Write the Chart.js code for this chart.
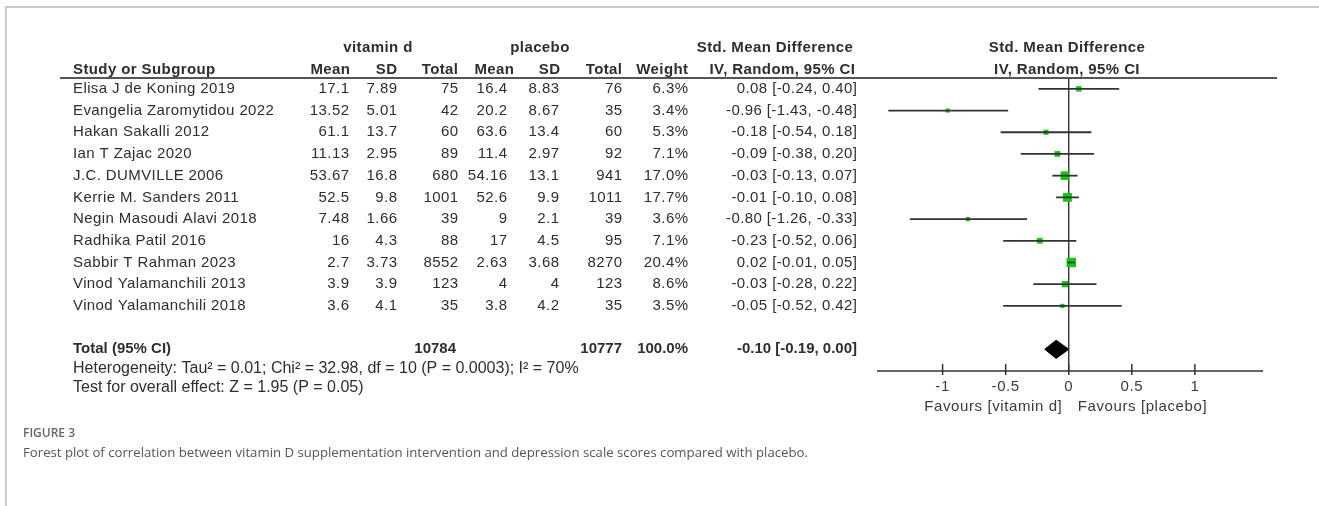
<!DOCTYPE html>
<html>
<head>
<meta charset="utf-8">
<script src="https://cdn.jsdelivr.net/npm/chart.js@4"></script>
<style>
    html, body { margin: 0; padding: 0; background: #fff; }
    #wrap { position: relative; width: 1319px; height: 506px; overflow: hidden; }
    #frame { position: absolute; left: 5px; top: 6px; width: 1400px; height: 600px;
             border-top: 2px solid #c9c9c9; border-left: 2px solid #c9c9c9; }
    #chart { position: absolute; left: 0; top: 0; }
</style>
</head>
<body>
<div id="wrap">
    <div id="frame"></div>
    <canvas id="chart" width="1319" height="506"></canvas>
</div>
<script>
const studies = [
    'Elisa J de Koning 2019', 'Evangelia Zaromytidou 2022', 'Hakan Sakalli 2012',
    'Ian T Zajac 2020', 'J.C. DUMVILLE 2006', 'Kerrie M. Sanders 2011',
    'Negin Masoudi Alavi 2018', 'Radhika Patil 2016', 'Sabbir T Rahman 2023',
    'Vinod Yalamanchili 2013', 'Vinod Yalamanchili 2018'
];
const vitMean = [17.1, 13.52, 61.1, 11.13, 53.67, 52.5, 7.48, 16, 2.7, 3.9, 3.6];
const vitSD = [7.89, 5.01, 13.7, 2.95, 16.8, 9.8, 1.66, 4.3, 3.73, 3.9, 4.1];
const vitTotal = [75, 42, 60, 89, 680, 1001, 39, 88, 8552, 123, 35];
const plaMean = [16.4, 20.2, 63.6, 11.4, 54.16, 52.6, 9, 17, 2.63, 4, 3.8];
const plaSD = [8.83, 8.67, 13.4, 2.97, 13.1, 9.9, 2.1, 4.5, 3.68, 4, 4.2];
const plaTotal = [76, 35, 60, 92, 941, 1011, 39, 95, 8270, 123, 35];
const weight = [6.3, 3.4, 5.3, 7.1, 17.0, 17.7, 3.6, 7.1, 20.4, 8.6, 3.5];
const smd = [0.08, -0.96, -0.18, -0.09, -0.03, -0.01, -0.80, -0.23, 0.02, -0.03, -0.05];
const ciLow = [-0.24, -1.43, -0.54, -0.38, -0.13, -0.10, -1.26, -0.52, -0.01, -0.28, -0.52];
const ciHigh = [0.40, -0.48, 0.18, 0.20, 0.07, 0.08, -0.33, 0.06, 0.05, 0.22, 0.42];

const totalVit = 10784;
const totalPla = 10777;
const totalWeight = 100.0;
const totalSmd = -0.10;
const totalLow = -0.19;
const totalHigh = 0.00;

const xTicks = [-1, -0.5, 0, 0.5, 1];
const xTickLabels = ['-1', '-0.5', '0', '0.5', '1'];

const TOTAL_ROW = 12;
const AXIS_ROW = 13;
const TXT = '#2e2e2e';
const FONT = 'Liberation Sans, Arial, sans-serif';

function fmt2(v) {
    return (v < 0 ? '-' : '') + Math.abs(v).toFixed(2);
}

function ciText(m, lo, hi) {
    return fmt2(m) + ' [' + fmt2(lo) + ', ' + fmt2(hi) + ']';
}

// one horizontal line per study for the confidence interval
const ciSets = studies.map((s, i) => ({
    type: 'line',
    data: [{ x: ciLow[i], y: i }, { x: ciHigh[i], y: i }],
    borderColor: '#333',
    borderWidth: 1.8,
    pointRadius: 0
}));

const squareSet = {
    type: 'scatter',
    data: smd.map((v, i) => ({ x: v, y: i })),
    pointStyle: 'rect',
    backgroundColor: '#11c811',
    borderWidth: 0,
    pointRadius: ctx => 2 * Math.sqrt(weight[ctx.dataIndex]) / Math.SQRT2 + 0.3
};

const zeroSet = {
    type: 'line',
    data: [{ x: 0, y: -0.5 }, { x: 0, y: AXIS_ROW }],
    borderColor: '#333',
    borderWidth: 1.4,
    pointRadius: 0
};

const diamondSet = {
    type: 'line',
    data: [
        { x: totalLow, y: TOTAL_ROW },
        { x: totalSmd, y: TOTAL_ROW - 0.42 },
        { x: totalHigh, y: TOTAL_ROW },
        { x: totalSmd, y: TOTAL_ROW + 0.42 },
        { x: totalLow, y: TOTAL_ROW }
    ],
    borderColor: '#000',
    backgroundColor: '#000',
    borderWidth: 1,
    fill: 'shape',
    tension: 0,
    pointRadius: 0
};

const tablePlugin = {
    id: 'table',
    afterDraw(chart) {
        const ctx = chart.ctx;
        const xs = chart.scales.x;
        const ys = chart.scales.y;
        const rowY = i => ys.getPixelForValue(i);

        ctx.save();
        ctx.textBaseline = 'middle';
        ctx.fillStyle = TXT;

        function txt(s, x, y, align, font, spacing) {
            ctx.font = font;
            ctx.letterSpacing = (spacing || 0) + 'px';
            ctx.textAlign = align;
            // trailing letter spacing would push right-aligned text left
            const shift = align === 'right' ? (spacing || 0) : 0;
            ctx.fillText(s, x + shift, y);
        }

        const bold = 'bold 15px ' + FONT;
        const reg = '15px ' + FONT;
        const sp = 0.4;

        // group headers
        txt('vitamin d', 378, 48, 'center', bold, sp);
        txt('placebo', 540, 48, 'center', bold, sp);
        txt('Std. Mean Difference', 775, 48, 'center', bold, sp);
        txt('Std. Mean Difference', 1067, 48, 'center', bold, sp);

        // column headers
        txt('Study or Subgroup', 73, 70, 'left', bold, sp);
        txt('Mean', 350, 70, 'right', bold, sp);
        txt('SD', 397, 70, 'right', bold, sp);
        txt('Total', 458, 70, 'right', bold, sp);
        txt('Mean', 514, 70, 'right', bold, sp);
        txt('SD', 560, 70, 'right', bold, sp);
        txt('Total', 622, 70, 'right', bold, sp);
        txt('Weight', 688, 70, 'right', bold, sp);
        txt('IV, Random, 95% CI', 855, 70, 'right', bold, sp);
        txt('IV, Random, 95% CI', 1067, 70, 'center', bold, sp);

        // header rule
        const topY = rowY(-0.5);
        ctx.strokeStyle = '#555';
        ctx.lineWidth = 2;
        ctx.beginPath();
        ctx.moveTo(60, topY);
        ctx.lineTo(1277, topY);
        ctx.stroke();

        // study rows
        studies.forEach((s, i) => {
            const y = rowY(i);
            txt(s, 73, y, 'left', reg, sp);
            txt(String(vitMean[i]), 349, y, 'right', reg, sp);
            txt(String(vitSD[i]), 397, y, 'right', reg, sp);
            txt(String(vitTotal[i]), 458, y, 'right', reg, sp);
            txt(String(plaMean[i]), 507, y, 'right', reg, sp);
            txt(String(plaSD[i]), 559, y, 'right', reg, sp);
            txt(String(plaTotal[i]), 622, y, 'right', reg, sp);
            txt(weight[i].toFixed(1) + '%', 688, y, 'right', reg, sp);
            txt(ciText(smd[i], ciLow[i], ciHigh[i]), 857, y, 'right', reg, sp);
        });

        // total row
        const ty = rowY(TOTAL_ROW);
        const tb = 'bold 15px ' + FONT;
        txt('Total (95% CI)', 73, ty, 'left', tb, 0);
        txt(String(totalVit), 456, ty, 'right', tb, 0);
        txt(String(totalPla), 622, ty, 'right', tb, 0);
        txt(totalWeight.toFixed(1) + '%', 688, ty, 'right', tb, 0);
        txt(ciText(totalSmd, totalLow, totalHigh), 857, ty, 'right', tb, 0);

        const tr = '16px ' + FONT;
        txt('Heterogeneity: Tau\u00b2 = 0.01; Chi\u00b2 = 32.98, df = 10 (P = 0.0003); I\u00b2 = 70%', 73, ty + 19, 'left', tr, 0);
        txt('Test for overall effect: Z = 1.95 (P = 0.05)', 73, ty + 38, 'left', tr, 0);

        // x axis
        const ay = rowY(AXIS_ROW);
        ctx.strokeStyle = '#333';
        ctx.lineWidth = 1.5;
        ctx.beginPath();
        ctx.moveTo(chart.chartArea.left, ay);
        ctx.lineTo(chart.chartArea.right, ay);
        xTicks.forEach(t => {
            const px = xs.getPixelForValue(t);
            ctx.moveTo(px, ay - 7);
            ctx.lineTo(px, ay + 4);
        });
        ctx.stroke();
        ctx.fillStyle = '#3a3a3a';
        xTicks.forEach((t, k) => {
            txt(xTickLabels[k], xs.getPixelForValue(t), ay + 16, 'center', reg, 0.6);
        });
        const zx = xs.getPixelForValue(0);
        txt('Favours [vitamin d]', zx - 7, ay + 36, 'right', reg, 0.6);
        txt('Favours [placebo]', zx + 9, ay + 36, 'left', reg, 0.6);

        // figure caption
        ctx.fillStyle = '#666';
        txt('FIGURE 3', 23, 434, 'left', '600 12px Open Sans, Lato, sans-serif', 0);
        ctx.fillStyle = '#555';
        txt('Forest plot of correlation between vitamin D supplementation intervention and depression scale scores compared with placebo.',
            23, 453, 'left', '13.2px Open Sans, Lato, sans-serif', 0);

        ctx.restore();
    }
};

new Chart(document.getElementById('chart'), {
    type: 'scatter',
    data: {
        datasets: [...ciSets, squareSet, zeroSet, diamondSet]
    },
    options: {
        responsive: false,
        animation: false,
        layout: {
            padding: { left: 877, right: 56, top: 78, bottom: 135 }
        },
        scales: {
            x: { type: 'linear', min: -1.52, max: 1.54, display: false },
            y: { type: 'linear', min: -0.5, max: AXIS_ROW, reverse: true, display: false }
        },
        plugins: {
            legend: { display: false },
            tooltip: { enabled: false }
        }
    },
    plugins: [tablePlugin]
});
</script>
</body>
</html>
